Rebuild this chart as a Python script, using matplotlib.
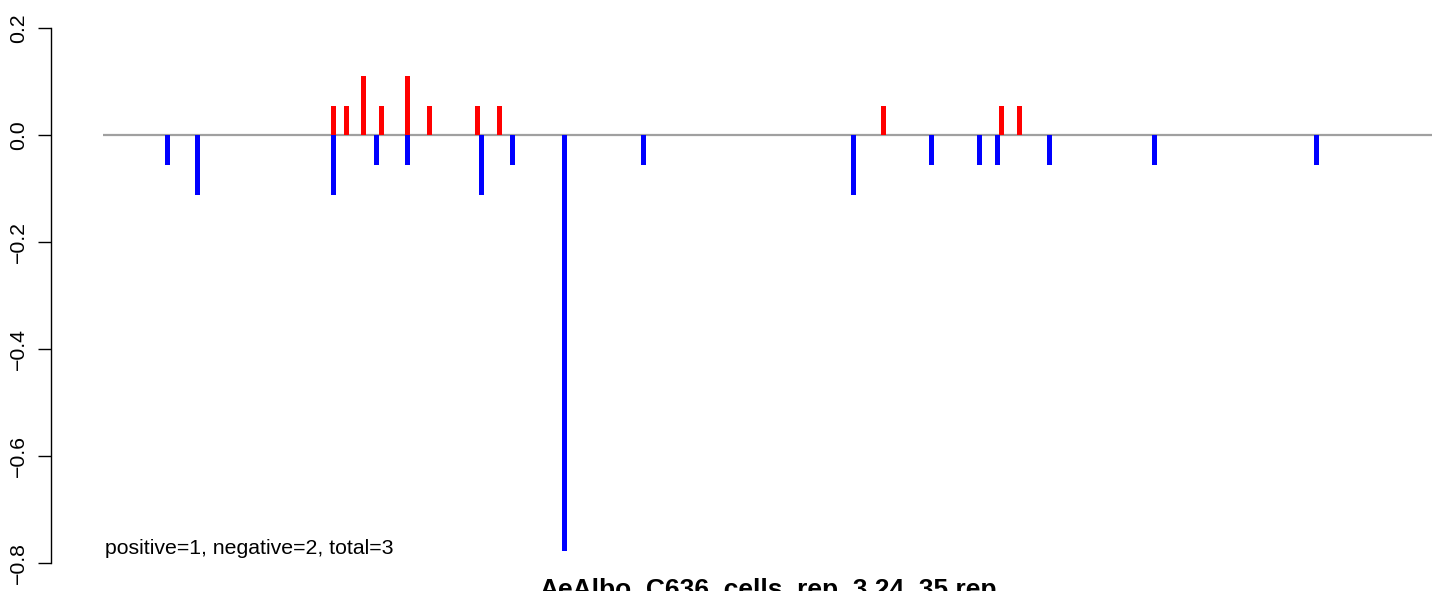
import matplotlib
matplotlib.use("Agg")
import matplotlib.pyplot as plt

plt.rcParams['font.family'] = ['Liberation Sans', 'DejaVu Sans']

# positions along the sequence (arbitrary units)
neg_pos = [64, 94, 230, 273, 304, 378, 409, 461, 540, 750, 828, 876, 894, 946, 1051, 1213]
neg_val = [-0.0556, -0.1111, -0.1111, -0.0556, -0.0556, -0.1111, -0.0556, -0.7778,
           -0.0556, -0.1111, -0.0556, -0.0556, -0.0556, -0.0556, -0.0556, -0.0556]
pos_pos = [230, 243, 260, 278, 304, 326, 374, 396, 780, 898, 916]
pos_val = [0.0556, 0.0556, 0.1111, 0.0556, 0.1111, 0.0556, 0.0556, 0.0556, 0.0556, 0.0556, 0.0556]
seq_len = 1329
yticks = [-0.8, -0.6, -0.4, -0.2, 0.0, 0.2]
ytick_labels = ["\u22120.8", "\u22120.6", "\u22120.4", "\u22120.2", "0.0", "0.2"]
annot = "positive=1, negative=2, total=3"
title = "AeAlbo_C636_cells_rep_3.24_35.rep"

W, H = 1444, 591
fig = plt.figure(figsize=(W / 100, H / 100), dpi=100)
ax_left, ax_right = 50.7, 1444
ax_top, ax_bot = 28.3, 563.0
ax = fig.add_axes([ax_left / W, (H - ax_bot) / H, (ax_right - ax_left) / W, (ax_bot - ax_top) / H])
ax.set_xlim(ax_left - 103, ax_right - 103)
ax.set_ylim(-0.8, 0.2)

ax.plot([0, seq_len], [0, 0], color="#a0a0a0", lw=1.6, zorder=1, solid_capstyle='butt')
ax.bar(neg_pos, neg_val, width=5, color="#0000ff", zorder=2, linewidth=0)
ax.bar(pos_pos, pos_val, width=5, color="#ff0000", zorder=2, linewidth=0)

for s in ["top", "right", "bottom"]:
    ax.spines[s].set_visible(False)
ax.spines["left"].set_bounds(-0.8, 0.2)
ax.spines["left"].set_linewidth(1.0)
ax.set_xticks([])
ax.set_yticks(yticks)
ax.set_yticklabels(ytick_labels, fontsize=15.3)
ax.tick_params(axis="y", length=9.4, width=1.0, pad=7.2)
for lab in ax.get_yticklabels():
    lab.set_rotation(90)
    lab.set_rotation_mode("anchor")
    lab.set_ha("center")
    lab.set_va("bottom")

ax.text(2, -0.783, annot, fontsize=15.3, ha="left", va="baseline")
fig.text(768 / W, (H - 597) / H, title, fontsize=19, fontweight="bold", ha="center", va="baseline")

fig.savefig("out.png", dpi=100)
